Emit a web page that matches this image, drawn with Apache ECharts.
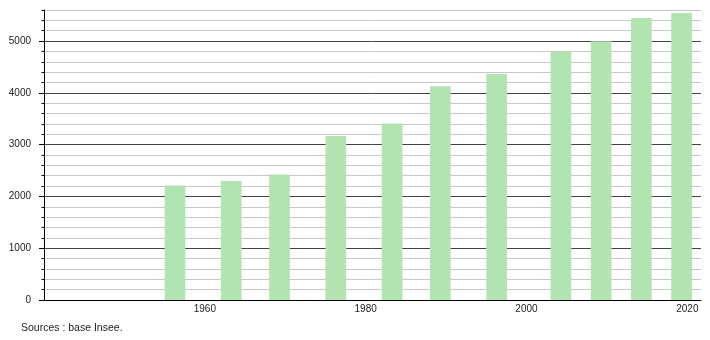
<!DOCTYPE html>
<html>
<head>
<meta charset="utf-8">
<script src="https://cdn.jsdelivr.net/npm/echarts@6/dist/echarts.min.js"></script>
<style>html,body{margin:0;padding:0;background:#fff}#c{width:710px;height:340px}</style>
</head>
<body>
<div id="c"></div>
<script>
// Bar positions (left edge, in years on the time axis) and population values
var years = [1955, 1962, 1968, 1975, 1982, 1988, 1995, 2003, 2008, 2013, 2018];
var population = [2210, 2300, 2425, 3165, 3410, 4130, 4365, 4800, 4995, 5445, 5540];
var xTicks = [1960, 1980, 2000, 2020];
var yMajorTicks = [0, 1000, 2000, 3000, 4000, 5000];
var sourceText = 'Sources : base Insee.';

var BAR_YEARS = 2.57;
var data = years.map(function (y, i) { return [y, population[i]]; });

var chart = echarts.init(document.getElementById('c'), null, {renderer: 'canvas'});
var font = 'Liberation Sans, Arial, sans-serif';
chart.setOption({
  animation: false,
  backgroundColor: '#fff',
  grid: {left: 44, right: 9, top: 10, bottom: 40, containLabel: false},
  xAxis: {
    type: 'value', min: 1940, max: 2021.7, interval: 20,
    axisLine: {show: true, onZero: false, lineStyle: {color: '#000', width: 1}},
    axisTick: {show: false},
    splitLine: {show: false},
    axisLabel: {
      show: true, margin: 4, fontSize: 10, color: '#222', fontFamily: font,
      showMinLabel: false, showMaxLabel: false,
      formatter: function (v) { return xTicks.indexOf(v) >= 0 ? String(v) : ''; }
    }
  },
  yAxis: [{
    type: 'value', min: 0, max: 5600, interval: 200, position: 'left',
    axisLine: {show: true, lineStyle: {color: '#000', width: 1}},
    axisTick: {show: true, length: 2.5, lineStyle: {color: '#000'}},
    axisLabel: {show: false},
    splitLine: {show: true, lineStyle: {color: '#c8c8c8', width: 1}}
  }, {
    type: 'value', min: 0, max: 5600, interval: 1000, position: 'left',
    axisLine: {show: false},
    axisTick: {show: true, length: 5, customValues: yMajorTicks, lineStyle: {color: '#000'}},
    axisLabel: {
      show: true, margin: 13, fontSize: 10, color: '#222', fontFamily: font,
      showMaxLabel: false,
      formatter: function (v) { return yMajorTicks.indexOf(v) >= 0 ? String(v) : ''; }
    },
    splitLine: {show: true, showMinLine: true, showMaxLine: true, lineStyle: {color: '#444', width: 1}}
  }],
  series: [{
    type: 'custom',
    yAxisIndex: 0,
    z: 5,
    data: data,
    renderItem: function (params, api) {
      var p0 = api.coord([api.value(0), api.value(1)]);
      var p1 = api.coord([api.value(0) + BAR_YEARS, 0]);
      return {
        type: 'rect',
        shape: {x: p0[0], y: p0[1], width: p1[0] - p0[0], height: p1[1] - p0[1]},
        style: {fill: '#b2e4b2'}
      };
    }
  }],
  graphic: [{
    type: 'text', left: 21, top: 323,
    style: {text: sourceText, fontSize: 10.5, fill: '#222', fontFamily: font}
  }]
});
</script>
</body>
</html>
